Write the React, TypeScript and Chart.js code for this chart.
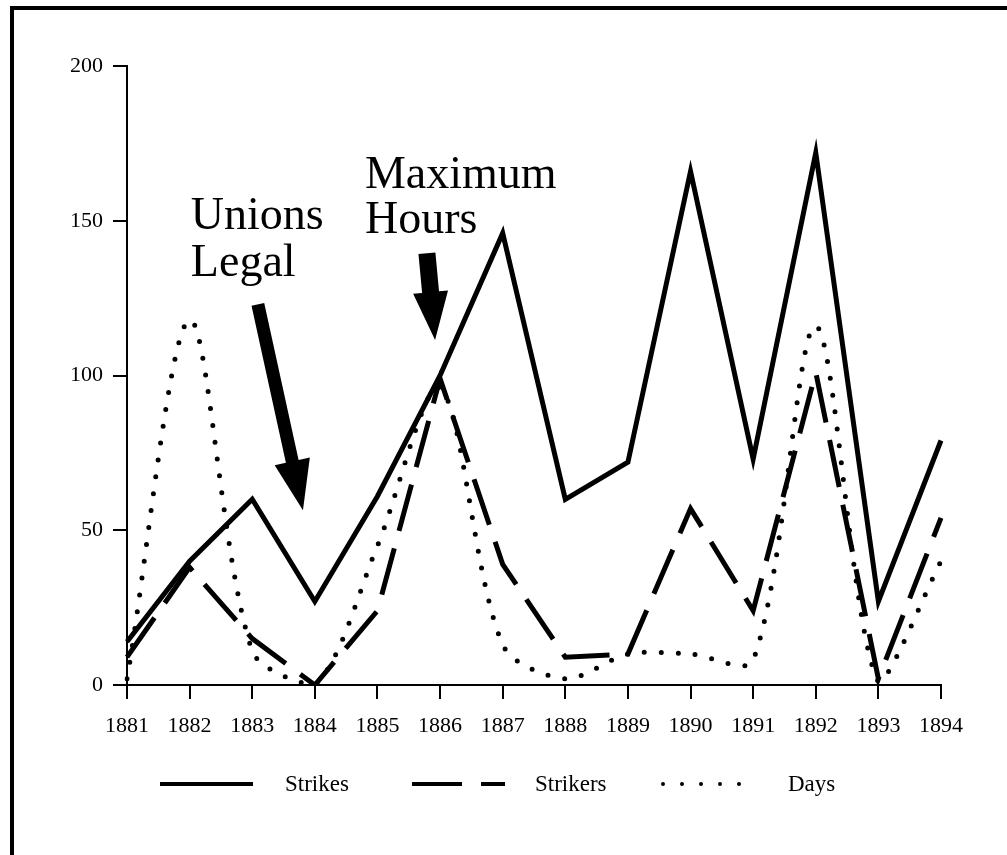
import React, { useEffect, useRef } from "react";
import { Chart, registerables } from "chart.js";

Chart.register(...registerables);

const years = ["1881", "1882", "1883", "1884", "1885", "1886", "1887", "1888", "1889", "1890", "1891", "1892", "1893", "1894"];
const strikes = [14, 40, 60, 27, 61, 100, 146, 60, 72, 166, 73, 172, 27, 79];
const strikers = [9, 38, 15, 0, 24, 99, 39, 9, 10, 57, 24, 101, 2, 54];
const days = [2, 118, 11, 0, 45, 96, 13, 2, 10, 10, 8, 116, 1, 40];
const yTicks = [0, 50, 100, 150, 200];
const seriesNames = ["Strikes", "Strikers", "Days"];
const noteUnions = ["Unions", "Legal"];
const noteHours = ["Maximum", "Hours"];

const SERIF = '"Liberation Serif", "Times New Roman", serif';

function drawArrow(ctx: CanvasRenderingContext2D, x1: number, y1: number, x2: number, y2: number, shaft: number, head: number, headLen: number) {
  const dx = x2 - x1;
  const dy = y2 - y1;
  const len = Math.hypot(dx, dy);
  const ux = dx / len;
  const uy = dy / len;
  const nx = -uy;
  const ny = ux;
  const bx = x2 - ux * headLen;
  const by = y2 - uy * headLen;
  ctx.beginPath();
  ctx.moveTo(x1 + nx * shaft / 2, y1 + ny * shaft / 2);
  ctx.lineTo(bx + nx * shaft / 2, by + ny * shaft / 2);
  ctx.lineTo(bx + nx * head / 2, by + ny * head / 2);
  ctx.lineTo(x2, y2);
  ctx.lineTo(bx - nx * head / 2, by - ny * head / 2);
  ctx.lineTo(bx - nx * shaft / 2, by - ny * shaft / 2);
  ctx.lineTo(x1 - nx * shaft / 2, y1 - ny * shaft / 2);
  ctx.closePath();
  ctx.fillStyle = "#000";
  ctx.fill();
}

const decorPlugin = {
  id: "decor",
  afterDraw(chart: any) {
    const ctx: CanvasRenderingContext2D = chart.ctx;
    const xs = chart.scales.x;
    const ys = chart.scales.y;
    const px = (v: number) => xs.getPixelForValue(v);
    const py = (v: number) => ys.getPixelForValue(v);
    ctx.save();

    // frame
    ctx.strokeStyle = "#000";
    ctx.lineWidth = 4;
    ctx.beginPath();
    ctx.moveTo(12, 855);
    ctx.lineTo(12, 8);
    ctx.lineTo(1007, 8);
    ctx.stroke();

    // annotations
    ctx.fillStyle = "#000";
    ctx.font = `46px ${SERIF}`;
    ctx.textAlign = "left";
    ctx.textBaseline = "alphabetic";
    ctx.fillText(noteUnions[0], px(1.02), py(147.3));
    ctx.fillText(noteUnions[1], px(1.02), py(132.2));
    ctx.fillText(noteHours[0], px(3.8), py(160.6));
    ctx.fillText(noteHours[1], px(3.8), py(146.0));
    drawArrow(ctx, px(2.09), py(123), px(2.81), py(56.5), 13, 36, 50);
    drawArrow(ctx, px(4.79), py(139.5), px(4.92), py(111.5), 17, 35, 48);

    // legend
    const ly = 784;
    ctx.lineWidth = 4;
    ctx.lineCap = "butt";
    ctx.setLineDash([]);
    ctx.beginPath();
    ctx.moveTo(160, ly);
    ctx.lineTo(253, ly);
    ctx.stroke();
    ctx.setLineDash([50, 19]);
    ctx.beginPath();
    ctx.moveTo(412, ly);
    ctx.lineTo(505, ly);
    ctx.stroke();
    ctx.setLineDash([0, 19]);
    ctx.lineCap = "round";
    ctx.beginPath();
    ctx.moveTo(663, ly);
    ctx.lineTo(742, ly);
    ctx.stroke();
    ctx.setLineDash([]);
    ctx.font = `23px ${SERIF}`;
    ctx.textBaseline = "middle";
    ctx.fillText(seriesNames[0], 285, ly + 1);
    ctx.fillText(seriesNames[1], 535, ly + 1);
    ctx.fillText(seriesNames[2], 788, ly + 1);
    ctx.restore();
  },
};

export default function App() {
  const ref = useRef<HTMLCanvasElement | null>(null);
  useEffect(() => {
    if (!ref.current) return;
    const chart = new Chart(ref.current, {
      type: "line",
      data: {
        labels: years,
        datasets: [
          {
            label: seriesNames[0],
            data: strikes,
            borderColor: "#000",
            borderWidth: 5,
            pointRadius: 0,
            tension: 0,
            fill: false,
          },
          {
            label: seriesNames[1],
            data: strikers,
            borderColor: "#000",
            borderWidth: 5,
            borderDash: [48, 18],
            pointRadius: 0,
            tension: 0,
            fill: false,
          },
          {
            label: seriesNames[2],
            data: days,
            borderColor: "#000",
            borderWidth: 5,
            borderDash: [0, 17],
            borderCapStyle: "round",
            pointRadius: 0,
            tension: 0.3,
            fill: false,
          },
        ],
      },
      options: {
        responsive: false,
        animation: false,
        devicePixelRatio: 1,
        layout: { padding: { left: 0, right: 66, top: 66, bottom: 0 } },
        plugins: { legend: { display: false }, tooltip: { enabled: false } },
        scales: {
          x: {
            type: "category",
            offset: false,
            afterFit: (s: any) => { s.height = 170; },
            grid: { drawOnChartArea: false, color: "#000", tickLength: 14, lineWidth: 2 },
            border: { color: "#000", width: 2 },
            ticks: { color: "#000", font: { family: SERIF, size: 22 }, padding: 14, maxRotation: 0, autoSkip: false },
          },
          y: {
            min: yTicks[0],
            max: yTicks[yTicks.length - 1],
            afterFit: (s: any) => { s.width = 127; },
            afterBuildTicks: (s: any) => { s.ticks = yTicks.map((v) => ({ value: v })); },
            grid: { drawOnChartArea: false, color: "#000", tickLength: 14, lineWidth: 2 },
            border: { color: "#000", width: 2 },
            ticks: { color: "#000", font: { family: SERIF, size: 22 }, padding: 10 },
          },
        },
      },
      plugins: [decorPlugin],
    });
    return () => chart.destroy();
  }, []);
  return (
    <div style={{ position: "fixed", left: 0, top: 0, width: 1007, height: 855, background: "#fff" }}>
      <canvas ref={ref} width={1007} height={855} style={{ display: "block", width: 1007, height: 855 }} />
    </div>
  );
}
